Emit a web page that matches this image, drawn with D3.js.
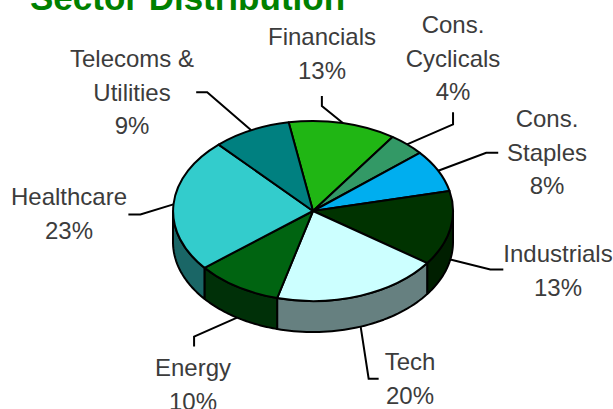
<!DOCTYPE html>
<html><head><meta charset="utf-8">
<script src="https://cdn.jsdelivr.net/npm/d3@7"></script>
<style>html,body{margin:0;padding:0;background:#fff}svg{display:block}</style>
</head><body>
<svg id="c" width="613" height="409"></svg>
<script>
const titleText = "Sector Distribution";
const sectors = ["Financials","Cons. Cyclicals","Cons. Staples","Industrials","Tech","Energy","Healthcare","Telecoms & Utilities"];
const shares = [12.4,4.2,7.6,13.4,19.3,10,24.1,9];
const topColors = ["#20b614","#339966","#00aeef","#003300","#ccffff","#006411","#33cccc","#008080"];
const sideColors = ["#106010","#1a4d33","#005878","#001f00","#668080","#003008","#1a6666","#004040"];
const labelLines = [["Financials","13%"],["Cons.","Cyclicals","4%"],["Cons.","Staples","8%"],["Industrials","13%"],["Tech","20%"],["Energy","10%"],["Healthcare","23%"],["Telecoms &","Utilities","9%"]];
const labelX = [322,453,547,558,410,193,69,132];
const labelY = [45,33,127,262,370,376,205,67];
const elbowA = [[-21,-17],[46,-20],[48,-18],[40,10],[8,52],[-43,19],[-33,10],[-44,-38]];
const elbowB = [[-21,-27],[46,-32],[60,-18],[53,10],[18,52],[-43,29],[-45,10],[-55,-38]];

const cx=313, cy=211, rx=140, ry=90, depth=31, startDeg=-10;
const svg=d3.select("#c");
const pie=d3.pie().sort(null).value(d=>d).startAngle(startDeg*Math.PI/180).endAngle((startDeg+360)*Math.PI/180);
const arcs=pie(shares);
const X=d3.scaleLinear().domain([-1,1]).range([cx-rx,cx+rx]);
const Y=d3.scaleLinear().domain([-1,1]).range([cy-ry,cy+ry]);
const pt=(a,d=0)=>[X(Math.sin(a)),Y(-Math.cos(a))+d];
const line=d3.line();

// leader lines start on the rim at each slice's middle angle
arcs.forEach((s,i)=>{
  const m=(s.startAngle+s.endAngle)/2;
  const a=pt(m, Math.cos(m)<0?depth:0);
  svg.append("path").attr("d",line([a,
    [a[0]+elbowA[i][0],a[1]+elbowA[i][1]],
    [a[0]+elbowB[i][0],a[1]+elbowB[i][1]]
  ])).attr("fill","none").attr("stroke","#000").attr("stroke-width",2);
});

// side walls
const lo=Math.PI/2, hi=3*Math.PI/2;
arcs.forEach((s,i)=>{
  const a0=Math.max(s.startAngle,lo), a1=Math.min(s.endAngle,hi);
  if(a1<=a0) return;
  const n=40;
  const top=d3.range(n+1).map(k=>pt(a0+(a1-a0)*k/n));
  const bot=top.map(p=>[p[0],p[1]+depth]).reverse();
  svg.append("path").attr("d",line(top.concat(bot))+"Z").attr("fill",sideColors[i]).attr("stroke","#000").attr("stroke-width",2).attr("stroke-linejoin","round");
});

// top face
const arc=d3.arc().innerRadius(0).outerRadius(1);
const g=svg.append("g").attr("transform",`translate(${cx},${cy}) scale(${rx},${ry})`);
g.selectAll("path").data(arcs).join("path").attr("d",arc)
 .attr("fill",(d,i)=>topColors[i]).attr("stroke","#000").attr("stroke-width",2)
 .attr("vector-effect","non-scaling-stroke").attr("stroke-linejoin","round");

// labels
labelLines.forEach((ls,i)=>{
  ls.forEach((t,j)=>{
    svg.append("text").attr("x",labelX[i]).attr("y",labelY[i]+j*33.7).attr("text-anchor","middle")
      .attr("font-family","Liberation Sans").attr("font-size",24).attr("fill","#3c3c3c").text(t);
  });
});
svg.append("text").attr("x",30).attr("y",10).attr("font-family","Liberation Sans").attr("font-weight","bold")
  .attr("font-size",35).attr("fill","#008000").text(titleText);
</script>
</body></html>
